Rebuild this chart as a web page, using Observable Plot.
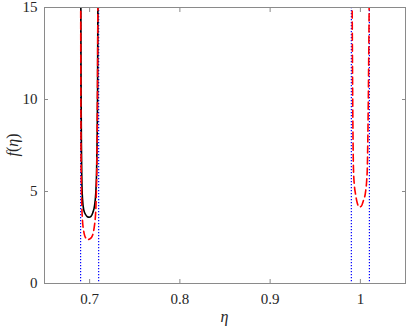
<!DOCTYPE html>
<html>
<head>
<meta charset="utf-8">
<script src="https://cdn.jsdelivr.net/npm/d3@7"></script>
<script src="https://cdn.jsdelivr.net/npm/@observablehq/plot@0.6"></script>
<style>
  html, body { margin: 0; padding: 0; background: #fff; }
  #chart { width: 409px; height: 330px; }
  #chart svg text { font-family: "Liberation Serif", "DejaVu Serif", serif !important; }
</style>
</head>
<body>
<div id="chart"></div>
<script>
// ---- data ----
const etaTicks = [0.7, 0.8, 0.9, 1];
const fTicks = [0, 5, 10, 15];
const etaTickLabels = ["0.7", "0.8", "0.9", "1"];
const fTickLabels = ["0", "5", "10", "15"];
const asymptotes = [0.69, 0.71, 0.99, 1.01];

// black solid curve near eta = 0.7
const blackEta = [0.6902, 0.6905, 0.6909, 0.6914, 0.6921, 0.6935, 0.6955, 0.6975, 0.6995, 0.7015, 0.7035, 0.7055, 0.7068, 0.7077, 0.7083, 0.7088, 0.7092];
const blackF   = [16, 11, 7.5, 5.6, 4.6, 4.0, 3.75, 3.63, 3.6, 3.65, 3.85, 4.25, 4.9, 6.0, 7.8, 10.5, 16];

// red dashed curve near eta = 0.7
const redAEta = [0.6901, 0.6903, 0.6907, 0.6912, 0.692, 0.694, 0.696, 0.698, 0.700, 0.702, 0.704, 0.7055, 0.7062, 0.7072, 0.708, 0.7086, 0.7092];
const redAF   = [16, 10, 6, 4.5, 3.5, 2.7, 2.45, 2.38, 2.42, 2.5, 2.75, 3.2, 3.5, 4.5, 6.5, 9.5, 16];

// red dashed curve near eta = 1
const redBEta = [0.9908, 0.9915, 0.9923, 0.9934, 0.9945, 0.9967, 0.9989, 1.0011, 1.0033, 1.0055, 1.007, 1.0077, 1.0088, 1.0099];
const redBF   = [16, 10, 6.3, 5.3, 4.9, 4.35, 4.16, 4.2, 4.5, 4.9, 5.6, 6.3, 10, 16];

const toRows = (xs, ys) => xs.map((x, i) => ({eta: x, f: ys[i]}));
const black = toRows(blackEta, blackF);
const redA = toRows(redAEta, redAF);
const redB = toRows(redBEta, redBF);

const axisColor = "#262626";
const tickColor = "#8a8a8a";
const font = "Liberation Serif, DejaVu Serif, serif";

const chart = Plot.plot({
  width: 409,
  height: 330,
  marginLeft: 44,
  marginRight: 4,
  marginTop: 7,
  marginBottom: 47,
  style: {fontSize: "15px", color: axisColor, background: "#fff"},
  x: {domain: [0.65, 1.05]},
  y: {domain: [0, 15]},
  marks: [
    Plot.ruleX(asymptotes, {x: d => d, stroke: "#0000ff", strokeWidth: 1.2, strokeDasharray: "1.2,1.8"}),
    Plot.line(black, {x: "eta", y: "f", stroke: "#000", strokeWidth: 1.6, curve: "monotone-x", clip: true}),
    Plot.line(redA, {x: "eta", y: "f", stroke: "#ff0000", strokeWidth: 1.6, strokeDasharray: "7,4", curve: "monotone-x", clip: true}),
    Plot.line(redB, {x: "eta", y: "f", stroke: "#ff0000", strokeWidth: 1.6, strokeDasharray: "7,4", curve: "monotone-x", clip: true}),
    Plot.frame({stroke: tickColor, strokeWidth: 1}),
    // inward ticks on all four sides
    Plot.axisX(etaTicks, {anchor: "bottom", tickSize: -4, tickFormat: () => "", label: null, stroke: tickColor}),
    Plot.axisX(etaTicks, {anchor: "top", tickSize: -4, tickFormat: () => "", label: null, stroke: tickColor}),
    Plot.axisY(fTicks, {anchor: "left", tickSize: -4, tickFormat: () => "", label: null, stroke: tickColor}),
    Plot.axisY(fTicks, {anchor: "right", tickSize: -4, tickFormat: () => "", label: null, stroke: tickColor}),
    // tick labels
    Plot.axisX(etaTicks, {anchor: "bottom", tickSize: 0, tickPadding: 10, tickFormat: (d, i) => etaTickLabels[i], label: null, fill: axisColor}),
    Plot.axisY(fTicks, {anchor: "left", tickSize: 0, tickPadding: 7, tickFormat: (d, i) => fTickLabels[i], label: null, fill: axisColor})
  ]
});

const svg = d3.select(chart);
svg.attr("font-family", font).style("font-family", font);
// x label
svg.append("text")
  .attr("x", 224.5).attr("y", 322)
  .attr("text-anchor", "middle")
  .attr("font-size", 16)
  .attr("font-style", "italic").attr("fill", axisColor)
  .text("η");
// y label
const yl = svg.append("text")
  .attr("transform", "translate(18,145) rotate(-90)")
  .attr("text-anchor", "middle")
  .attr("font-size", 16).attr("fill", axisColor);
yl.append("tspan").attr("font-style", "italic").text("f");
yl.append("tspan").text("(");
yl.append("tspan").attr("font-style", "italic").text("η");
yl.append("tspan").text(")");
svg.selectAll("text").attr("font-family", font).style("font-family", font);

document.getElementById("chart").appendChild(chart);
</script>
</body>
</html>
